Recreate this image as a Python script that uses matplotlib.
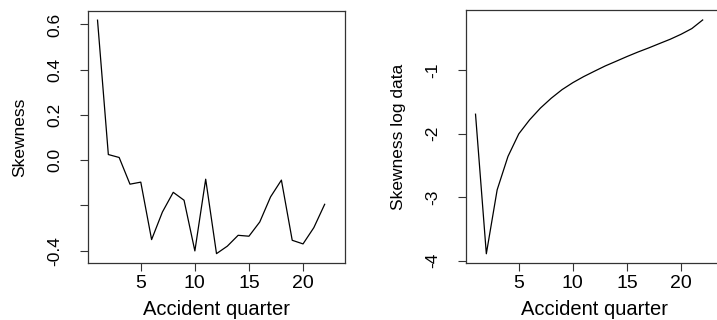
import matplotlib
matplotlib.use("Agg")
import matplotlib.pyplot as plt

plt.rcParams['font.family'] = ['Liberation Sans', 'DejaVu Sans']
plt.rcParams['axes.unicode_minus'] = False

# accident quarters 1..22
quarters = list(range(1, 23))

# skewness of the raw data per accident quarter
skew_raw = [0.619, 0.025, 0.012, -0.106, -0.097, -0.351, -0.229, -0.142, -0.177, -0.401,
            -0.084, -0.413, -0.380, -0.332, -0.336, -0.273, -0.162, -0.088, -0.354, -0.370,
            -0.298, -0.195]

# skewness of the log data per accident quarter
skew_log = [-1.696, -3.89, -2.885, -2.36, -2.005, -1.785, -1.60, -1.445, -1.31, -1.20,
            -1.105, -1.02, -0.937, -0.864, -0.79, -0.72, -0.655, -0.586, -0.518, -0.44,
            -0.35, -0.215]

xticks = [5, 10, 15, 20]
left_yticks = [-0.4, -0.2, 0.0, 0.2, 0.4, 0.6]
left_ylabels = ['-0.4', '', '0.0', '0.2', '0.4', '0.6']
right_yticks = [-4, -3, -2, -1]
right_ylabels = ['-4', '-3', '-2', '-1']

fig = plt.figure(figsize=(7.17, 3.2), dpi=100)
W, H = 717, 320


def make_ax(x0, x1, y0, y1):
    return fig.add_axes([x0 / W, (H - y1) / H, (x1 - x0) / W, (y1 - y0) / H])


def style(ax, y, yticks, ylabels, ylabel):
    ax.plot(quarters, y, color='black', lw=0.9)
    ax.set_xlim(0.12, 23.88)
    ax.set_xticks(xticks)
    ax.set_xticklabels([str(t) for t in xticks], fontsize=14)
    ax.set_yticks(yticks)
    ax.set_yticklabels(ylabels, fontsize=12.5, rotation=90, va='center')
    ax.tick_params(axis='both', length=5.5, width=0.8, color='#333333')
    ax.tick_params(axis='x', pad=3)
    ax.tick_params(axis='y', pad=13)
    for s in ax.spines.values():
        s.set_linewidth(0.9)
        s.set_color('#333333')
    ax.set_xlabel('Accident quarter', fontsize=14.5)
    ax.xaxis.set_label_coords(0.5, -0.147)
    ax.set_ylabel(ylabel, fontsize=12.5)
    ax.yaxis.set_label_coords(-0.235, 0.5)


ax1 = make_ax(88, 345, 11, 263)
style(ax1, skew_raw, left_yticks, left_ylabels, 'Skewness')
ax1.set_ylim(-0.4544, 0.6594)

ax2 = make_ax(466, 723, 10.3, 263)
style(ax2, skew_log, right_yticks, right_ylabels, 'Skewness log data')
ax2.set_ylim(-4.035, -0.063)

fig.savefig('out.png', dpi=100)
